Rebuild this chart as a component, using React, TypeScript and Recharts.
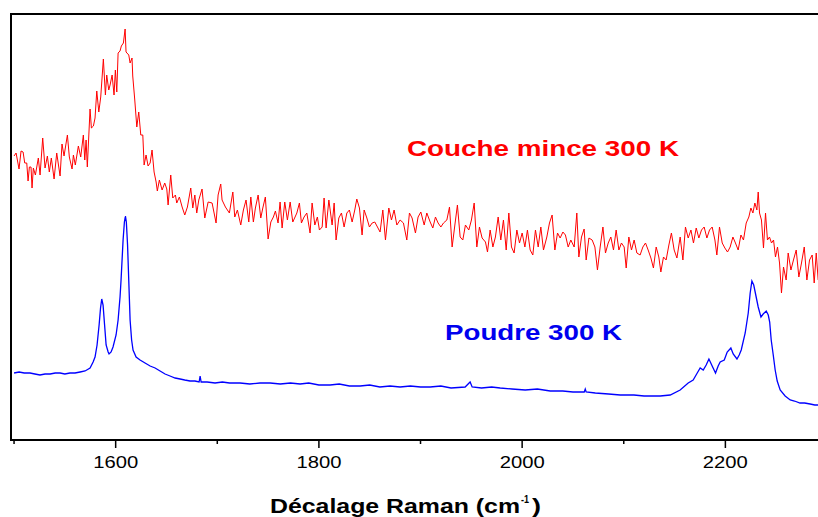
import React from 'react';
import {
  LineChart,
  Line,
  XAxis,
  YAxis,
  ReferenceArea,
  Customized,
} from 'recharts';

// Raman shift (cm-1) and intensity (a.u.)
const thinWn = [
  1500.0, 1502.0, 1504.9, 1506.9, 1508.9, 1510.5, 1512.5, 1513.8, 1515.1, 1516.7,
  1517.7, 1519.0, 1521.0, 1523.9, 1525.6, 1528.2, 1530.5, 1532.8, 1534.7, 1536.7,
  1539.4, 1542.0, 1545.3, 1547.2, 1549.2, 1552.5, 1554.4, 1557.1, 1558.4, 1560.3,
  1563.3, 1565.6, 1568.2, 1569.6, 1570.9, 1572.1, 1574.8, 1576.1, 1578.1, 1579.7,
  1581.4, 1583.4, 1585.3, 1587.9, 1589.9, 1591.2, 1593.2, 1594.5, 1596.5, 1598.4,
  1599.7, 1601.1, 1602.4, 1604.3, 1605.6, 1607.6, 1609.3, 1610.2, 1612.9, 1614.2,
  1616.1, 1616.8, 1618.8, 1620.8, 1622.7, 1624.7, 1626.7, 1628.0, 1629.9, 1631.9,
  1633.9, 1635.8, 1637.8, 1639.8, 1641.0, 1643.0, 1645.7, 1648.3, 1650.3, 1651.6,
  1654.2, 1656.2, 1658.8, 1660.1, 1662.7, 1665.4, 1668.0, 1670.6, 1673.9, 1675.9,
  1677.9, 1679.8, 1681.8, 1685.0, 1687.7, 1691.0, 1694.9, 1698.8, 1700.8, 1703.4,
  1704.7, 1708.0, 1711.9, 1715.3, 1717.2, 1719.8, 1723.1, 1725.7, 1728.3, 1731.0,
  1733.0, 1735.5, 1737.5, 1740.2, 1742.8, 1744.8, 1747.3, 1750.0, 1752.7, 1755.2,
  1757.2, 1759.8, 1761.8, 1763.8, 1766.4, 1769.0, 1771.7, 1774.3, 1778.3, 1780.8,
  1782.8, 1785.4, 1788.1, 1791.3, 1793.3, 1796.0, 1798.5, 1800.5, 1803.2, 1805.1,
  1807.1, 1809.8, 1813.0, 1815.0, 1816.9, 1819.6, 1822.2, 1824.8, 1827.5, 1830.0,
  1832.7, 1835.3, 1837.3, 1839.9, 1842.5, 1844.5, 1847.2, 1849.7, 1852.4, 1855.0,
  1857.6, 1860.2, 1862.9, 1865.5, 1868.8, 1871.4, 1874.0, 1876.7, 1879.9, 1883.2,
  1886.5, 1889.1, 1891.7, 1895.0, 1897.6, 1900.3, 1903.6, 1906.2, 1909.5, 1912.1,
  1914.7, 1917.3, 1920.0, 1922.6, 1925.9, 1928.5, 1931.1, 1933.8, 1936.3, 1939.0,
  1941.6, 1944.2, 1947.5, 1950.1, 1952.8, 1955.4, 1958.0, 1960.6, 1963.9, 1965.9,
  1968.5, 1971.2, 1973.7, 1976.4, 1979.0, 1981.6, 1984.3, 1986.9, 1989.5, 1992.1,
  1994.8, 1997.4, 2000.0, 2002.7, 2005.2, 2007.9, 2010.5, 2013.1, 2015.8, 2018.4,
  2021.0, 2024.3, 2026.9, 2029.5, 2032.2, 2034.8, 2037.4, 2040.1, 2042.6, 2045.3,
  2047.9, 2051.2, 2053.8, 2055.8, 2058.4, 2061.0, 2063.0, 2065.7, 2068.9, 2071.6,
  2074.1, 2076.8, 2079.5, 2082.0, 2084.7, 2087.3, 2089.9, 2092.5, 2095.2, 2097.7,
  2100.4, 2102.4, 2105.0, 2107.6, 2110.2, 2112.9, 2116.1, 2118.8, 2121.4, 2124.0,
  2126.7, 2129.2, 2131.9, 2134.5, 2136.5, 2139.1, 2141.7, 2144.4, 2146.9, 2149.6,
  2152.3, 2155.5, 2158.2, 2160.7, 2163.4, 2166.1, 2168.6, 2171.3, 2173.9, 2176.5,
  2179.1, 2181.8, 2184.4, 2187.0, 2189.7, 2191.6, 2194.2, 2196.9, 2199.5, 2202.1,
  2204.7, 2207.4, 2209.9, 2212.6, 2215.3, 2217.8, 2220.5, 2223.1, 2225.1, 2227.1,
  2229.0, 2231.0, 2232.3, 2233.6, 2235.5, 2237.5, 2239.5, 2241.4, 2243.4, 2245.4,
  2247.4, 2249.3, 2251.3, 2253.3, 2255.2, 2257.2, 2259.8, 2261.8, 2264.5, 2267.0,
  2269.7, 2272.3, 2274.9, 2277.6, 2280.2, 2282.8, 2285.4, 2287.4, 2289.4, 2291.3,
];

const thinI = [
  284, 287, 271, 289, 288, 277, 277, 259, 273, 273,
  252, 272, 265, 282, 265, 302, 272, 284, 268, 282,
  261, 287, 264, 296, 284, 305, 283, 271, 285, 275,
  294, 283, 305, 280, 300, 273, 331, 312, 314, 322,
  349, 328, 343, 381, 345, 365, 350, 355, 365, 345,
  370, 348, 387, 389, 394, 397, 411, 388, 385, 377,
  382, 364, 340, 313, 328, 305, 305, 275, 285, 274,
  277, 290, 268, 258, 249, 260, 250, 257, 251, 235,
  265, 242, 245, 237, 243, 233, 225, 233, 252, 232,
  245, 227, 240, 251, 222, 238, 237, 217, 245, 256,
  240, 233, 227, 248, 223, 230, 215, 230, 240, 218,
  243, 218, 232, 245, 222, 232, 243, 201, 218, 223,
  229, 217, 238, 212, 238, 220, 238, 218, 227, 237,
  217, 223, 227, 207, 237, 215, 223, 210, 213, 242,
  212, 240, 215, 237, 200, 222, 227, 213, 227, 230,
  218, 230, 241, 232, 205, 230, 222, 213, 217, 218,
  213, 208, 230, 200, 232, 220, 230, 215, 220, 217,
  200, 227, 222, 207, 223, 228, 215, 227, 218, 212,
  223, 217, 213, 217, 220, 233, 193, 215, 235, 203,
  200, 215, 210, 220, 237, 193, 213, 202, 198, 188,
  210, 193, 203, 223, 200, 220, 190, 227, 193, 187,
  210, 197, 207, 193, 210, 190, 185, 210, 193, 213,
  190, 203, 217, 225, 190, 207, 202, 208, 205, 193,
  200, 193, 227, 183, 203, 211, 180, 202, 200, 193,
  170, 193, 213, 187, 197, 203, 190, 210, 190, 197,
  193, 172, 203, 190, 200, 187, 185, 193, 197, 190,
  182, 172, 193, 183, 168, 183, 180, 195, 207, 190,
  182, 203, 180, 213, 202, 210, 197, 212, 202, 210,
  213, 202, 210, 213, 200, 185, 213, 197, 192, 188,
  193, 203, 197, 190, 205, 200, 217, 223, 232, 227,
  237, 230, 248, 227, 220, 192, 227, 200, 203, 197,
  200, 183, 193, 177, 147, 173, 160, 187, 170, 180,
  190, 163, 177, 193, 160, 180, 185, 157, 187, 160,
];

const powderWn = [
  1500.0, 1505.0, 1510.0, 1515.7, 1520.5, 1525.5, 1530.5, 1535.5, 1540.5, 1545.3,
  1550.0, 1555.0, 1560.0, 1565.0, 1569.9, 1574.8, 1577.8, 1579.7, 1581.7, 1583.7,
  1585.1, 1586.3, 1587.6, 1589.1, 1590.6, 1592.6, 1593.5, 1595.5, 1597.4, 1600.4,
  1602.4, 1604.3, 1605.3, 1607.3, 1608.6, 1609.6, 1610.5, 1611.7, 1613.2, 1614.2,
  1615.7, 1617.1, 1620.1, 1624.0, 1628.9, 1633.9, 1638.8, 1643.7, 1648.6, 1653.5,
  1658.5, 1663.4, 1668.0, 1673.2, 1678.0, 1682.1, 1683.1, 1684.1, 1690.0, 1697.8,
  1705.0, 1712.0, 1722.4, 1732.0, 1742.0, 1752.0, 1762.0, 1772.0, 1781.5, 1790.0,
  1800.0, 1811.0, 1820.0, 1830.0, 1840.6, 1850.0, 1860.0, 1870.0, 1879.9, 1890.0,
  1900.0, 1909.5, 1920.0, 1930.0, 1943.9, 1948.8, 1950.8, 1960.0, 1970.0, 1978.4,
  1990.0, 2003.0, 2015.0, 2027.6, 2040.0, 2050.0, 2061.1, 2062.1, 2063.0, 2072.0,
  2085.0, 2096.5, 2110.0, 2120.0, 2126.0, 2135.9, 2145.7, 2155.5, 2163.4, 2168.3,
  2172.3, 2175.2, 2178.2, 2181.1, 2183.8, 2187.0, 2190.3, 2192.9, 2194.9, 2198.9,
  2201.8, 2205.4, 2207.7, 2211.4, 2213.6, 2215.6, 2219.5, 2222.5, 2224.4, 2226.1,
  2227.9, 2229.3, 2232.3, 2235.0, 2237.2, 2240.2, 2242.2, 2243.6, 2245.1, 2247.1,
  2249.0, 2251.0, 2253.9, 2258.8, 2263.8, 2268.0, 2273.5, 2278.0, 2283.4, 2288.0,
  2291.3,
];

const powderI = [
  67, 68, 67, 67, 66, 65, 66, 66, 67, 67,
  66, 67, 67, 68, 69, 72, 78, 83, 95, 115,
  132, 141, 135, 115, 95, 88, 86, 88, 93, 105,
  120, 143, 160, 200, 218, 224, 218, 195, 150, 120,
  100, 90, 83, 80, 77, 74, 72, 69, 66, 64,
  62, 61, 60, 59, 59, 58, 64, 58, 58, 57,
  58, 57, 57, 56, 57, 57, 56, 57, 56, 57,
  55, 55, 56, 54, 54, 55, 53, 54, 53, 54,
  53, 53, 54, 52, 53, 58, 53, 52, 53, 52,
  51, 50, 51, 49, 49, 48, 48, 51, 48, 47,
  46, 45, 45, 44, 44, 44, 45, 50, 57, 60,
  67, 72, 70, 75, 81, 74, 67, 74, 78, 80,
  88, 92, 86, 81, 85, 90, 107, 127, 147, 159,
  155, 148, 133, 123, 126, 129, 125, 118, 100, 85,
  70, 59, 50, 44, 40, 39, 37, 37, 36, 35,
  35,
];

const xTicks = [1500, 1600, 1700, 1800, 1900, 2000, 2100, 2200];

const thinData = thinWn.map((wn, i) => ({ wn, v: thinI[i] }));
const powderData = powderWn.map((wn, i) => ({ wn, v: powderI[i] }));

const FONT = '"Liberation Sans", Arial, Helvetica, sans-serif';

const WavenumberTick = ({ x, y, payload }: any) => {
  const major = payload.value % 200 === 0;
  return (
    <g>
      <line x1={x} x2={x} y1={y} y2={y + (major ? 8 : 4)} stroke="#000" strokeWidth={1.5} />
      {major && (
        <text
          x={x - 22.5}
          y={y + 28}
          fontFamily={FONT}
          fontSize={17}
          fill="#000"
          textLength={45}
          lengthAdjust="spacingAndGlyphs"
        >
          {payload.value}
        </text>
      )}
    </g>
  );
};

const Annotations = () => (
  <g fontFamily={FONT} fontWeight="bold">
    <text x={407} y={156} fontSize={22} fill="#ff0000" textLength={272} lengthAdjust="spacingAndGlyphs">
      Couche mince 300 K
    </text>
    <text x={445} y={340} fontSize={22} fill="#0000ee" textLength={177} lengthAdjust="spacingAndGlyphs">
      Poudre 300 K
    </text>
    <text x={270} y={513} fontSize={21} fill="#000" textLength={250} lengthAdjust="spacingAndGlyphs">
      Décalage Raman (cm
    </text>
    <text x={521} y={503} fontSize={11} fill="#000" textLength={8} lengthAdjust="spacingAndGlyphs">
      -1
    </text>
    <text x={532} y={513} fontSize={21} fill="#000" textLength={9} lengthAdjust="spacingAndGlyphs">
      )
    </text>
  </g>
);

export default function App() {
  return (
    <div
      style={{
        position: 'fixed',
        left: 0,
        top: 0,
        width: 818,
        height: 517,
        overflow: 'hidden',
        background: '#fff',
      }}
    >
      <LineChart
        width={840}
        height={517}
        margin={{ top: 14, right: 13, bottom: 0, left: 11 }}
      >
        <XAxis
          type="number"
          dataKey="wn"
          domain={[1497, 2300]}
          ticks={xTicks}
          allowDataOverflow
          height={77}
          axisLine={false}
          tickLine={false}
          tickSize={0}
          tickMargin={0}
          tick={<WavenumberTick />}
          interval={0}
        />
        <YAxis type="number" domain={[0, 426]} hide allowDataOverflow />
        <ReferenceArea
          x1={1497}
          x2={2300}
          y1={0}
          y2={426}
          fill="none"
          stroke="#000"
          strokeWidth={2}
          ifOverflow="visible"
        />
        <Line
          data={powderData}
          dataKey="v"
          type="linear"
          stroke="#0000ff"
          strokeWidth={1.3}
          dot={false}
          isAnimationActive={false}
        />
        <Line
          data={thinData}
          dataKey="v"
          type="linear"
          stroke="#ff0000"
          strokeWidth={1}
          dot={false}
          isAnimationActive={false}
        />
        <Customized component={Annotations} />
      </LineChart>
    </div>
  );
}
